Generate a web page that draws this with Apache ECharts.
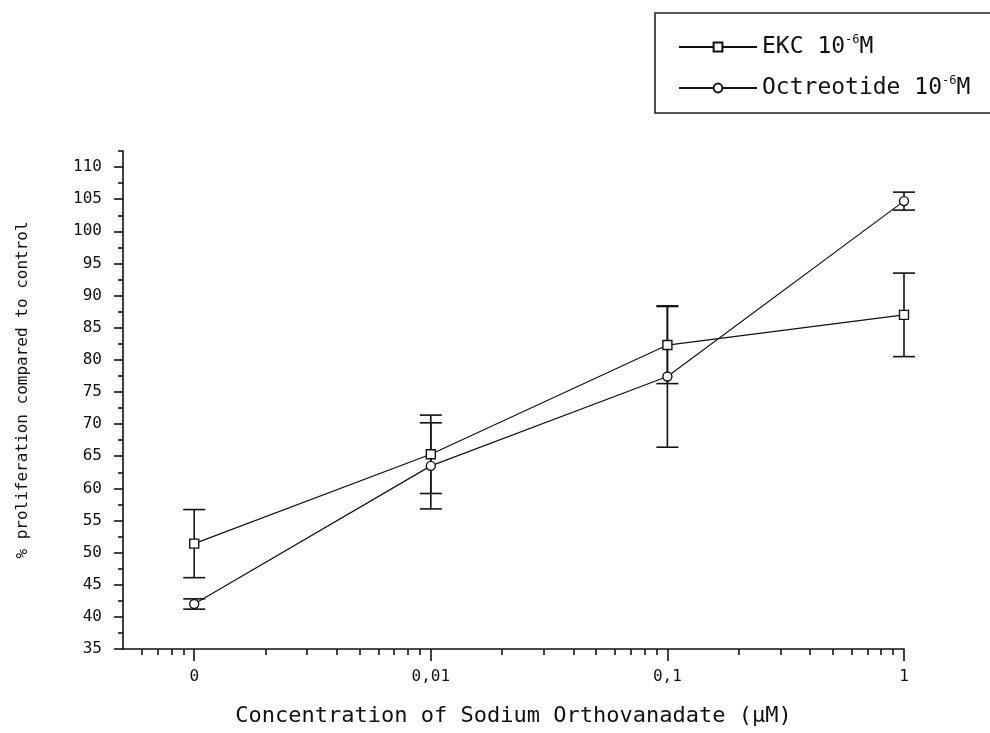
<!DOCTYPE html>
<html>
<head>
<meta charset="utf-8">
<script src="https://cdn.jsdelivr.net/npm/echarts@6/dist/echarts.min.js"></script>
<style>
  html, body { margin: 0; padding: 0; background: #fff; }
  #chart { width: 990px; height: 733px; }
</style>
</head>
<body>
<div id="chart"></div>
<script>
// Sodium orthovanadate doses (µM) and their axis labels
const doses = [0, 0.01, 0.1, 1];
const doseLabels = ['0', '0,01', '0,1', '1'];

// % proliferation compared to control (mean and error)
const ekcMean = [51.4, 65.3, 82.3, 87.0];
const ekcErr  = [5.3, 6.1, 6.0, 6.5];
const octMean = [42.0, 63.5, 77.4, 104.7];
const octErr  = [0.8, 6.7, 11.0, 1.4];

// Axis ticks
const yMajorTicks = [35, 40, 45, 50, 55, 60, 65, 70, 75, 80, 85, 90, 95, 100, 105, 110];
const yMinorTicks = [37.5, 42.5, 47.5, 52.5, 57.5, 62.5, 67.5, 72.5, 77.5, 82.5, 87.5, 92.5, 97.5, 102.5, 107.5, 112.5];
const xMajorTicks = [0.001, 0.01, 0.1, 1];
const xMinorTicks = [
  0.0006, 0.0007, 0.0008, 0.0009,
  0.002, 0.003, 0.004, 0.005, 0.006, 0.007, 0.008, 0.009,
  0.02, 0.03, 0.04, 0.05, 0.06, 0.07, 0.08, 0.09,
  0.2, 0.3, 0.4, 0.5, 0.6, 0.7, 0.8, 0.9
];

// The zero-dose control sits one decade below the lowest dose on the log axis
const ZERO_POS = 0.001;
const xOf = d => (d === 0 ? ZERO_POS : d);

const X_MIN = 0.0005, X_MAX = 1;
const Y_MIN = 35, Y_MAX = 112.5;

const INK = '#111';
const MONO = "'DejaVu Sans Mono', 'Liberation Mono', monospace";

function doseLabel(v) {
  for (let i = 0; i < doses.length; i++) {
    if (Math.abs(Math.log10(v) - Math.log10(xOf(doses[i]))) < 1e-6) return doseLabels[i];
  }
  return '';
}

function lineSeries(name, means, symbol) {
  return {
    name: name,
    type: 'line',
    xAxisIndex: 0,
    yAxisIndex: 0,
    data: doses.map((d, i) => [xOf(d), means[i]]),
    symbol: symbol,
    symbolSize: 9,
    showAllSymbol: true,
    lineStyle: { color: INK, width: 1.2 },
    itemStyle: { color: '#fff', borderColor: INK, borderWidth: 1.4 },
    emphasis: { disabled: true },
    z: 3
  };
}

function errorSeries(means, errs) {
  return {
    type: 'custom',
    xAxisIndex: 0,
    yAxisIndex: 0,
    data: doses.map((d, i) => [xOf(d), means[i] - errs[i], means[i] + errs[i]]),
    encode: { x: 0, y: [1, 2] },
    z: 2,
    silent: true,
    renderItem: function (params, api) {
      const lo = api.coord([api.value(0), api.value(1)]);
      const hi = api.coord([api.value(0), api.value(2)]);
      const half = 11;
      const style = { stroke: INK, lineWidth: 1.6 };
      return {
        type: 'group',
        children: [
          { type: 'line', shape: { x1: hi[0], y1: hi[1], x2: lo[0], y2: lo[1] }, style: style },
          { type: 'line', shape: { x1: hi[0] - half, y1: hi[1], x2: hi[0] + half, y2: hi[1] }, style: style },
          { type: 'line', shape: { x1: lo[0] - half, y1: lo[1], x2: lo[0] + half, y2: lo[1] }, style: style }
        ]
      };
    }
  };
}

const gridBox = { left: 123, right: 86, top: 151, bottom: 84, containLabel: false };

const chart = echarts.init(document.getElementById('chart'), null, { renderer: 'canvas' });

chart.setOption({
  backgroundColor: '#fff',
  animation: false,
  grid: [Object.assign({}, gridBox), Object.assign({}, gridBox)],
  legend: {
    data: ['EKC', 'Octreotide'],
    orient: 'vertical',
    left: 655,
    top: 13,
    padding: [21, 40, 12, 23],
    itemGap: 15,
    itemWidth: 78,
    itemHeight: 11,
    borderColor: '#222',
    borderWidth: 1.6,
    selectedMode: false,
    formatter: name => name + ' 10{sup|-6}M',
    textStyle: {
      fontFamily: MONO,
      fontSize: 23,
      color: INK,
      lineHeight: 26,
      rich: {
        sup: { fontFamily: MONO, fontSize: 12, color: INK, verticalAlign: 'top', lineHeight: 26 }
      }
    }
  },
  xAxis: [
    {
      type: 'log',
      gridIndex: 0,
      min: X_MIN,
      max: X_MAX,
      logBase: 10,
      name: 'Concentration of Sodium Orthovanadate (μM)',
      nameLocation: 'middle',
      nameGap: 56,
      nameTextStyle: { fontFamily: MONO, fontSize: 22, color: INK },
      axisLine: { onZero: false, lineStyle: { color: INK, width: 1.6 } },
      axisTick: { customValues: xMajorTicks, length: 12, lineStyle: { color: INK, width: 1.6 } },
      axisLabel: {
        customValues: xMajorTicks,
        formatter: doseLabel,
        margin: 20,
        fontFamily: MONO,
        fontSize: 16,
        color: INK
      },
      splitLine: { show: false },
      minorTick: { show: false },
      minorSplitLine: { show: false }
    },
    {
      type: 'log',
      gridIndex: 1,
      min: X_MIN,
      max: X_MAX,
      logBase: 10,
      axisLine: { show: false, onZero: false },
      axisTick: { customValues: xMinorTicks, length: 6, lineStyle: { color: INK, width: 1.6 } },
      axisLabel: { show: false },
      splitLine: { show: false }
    }
  ],
  yAxis: [
    {
      type: 'value',
      gridIndex: 0,
      min: Y_MIN,
      max: Y_MAX,
      name: '% proliferation compared to control',
      nameLocation: 'middle',
      nameGap: 92,
      nameTextStyle: { fontFamily: MONO, fontSize: 16, color: INK, padding: [0, 0, 0, 20] },
      axisLine: { show: true, onZero: false, lineStyle: { color: INK, width: 1.6 } },
      axisTick: { show: true, customValues: yMajorTicks, length: 9, lineStyle: { color: INK, width: 1.6 } },
      axisLabel: { customValues: yMajorTicks, margin: 21, fontFamily: MONO, fontSize: 16, color: INK },
      splitLine: { show: false }
    },
    {
      type: 'value',
      gridIndex: 1,
      min: Y_MIN,
      max: Y_MAX,
      axisLine: { show: false, onZero: false },
      axisTick: { show: true, customValues: yMinorTicks, length: 5, lineStyle: { color: INK, width: 1.6 } },
      axisLabel: { show: false },
      splitLine: { show: false }
    }
  ],
  series: [
    errorSeries(ekcMean, ekcErr),
    errorSeries(octMean, octErr),
    lineSeries('EKC', ekcMean, 'rect'),
    lineSeries('Octreotide', octMean, 'circle')
  ]
});
</script>
</body>
</html>
